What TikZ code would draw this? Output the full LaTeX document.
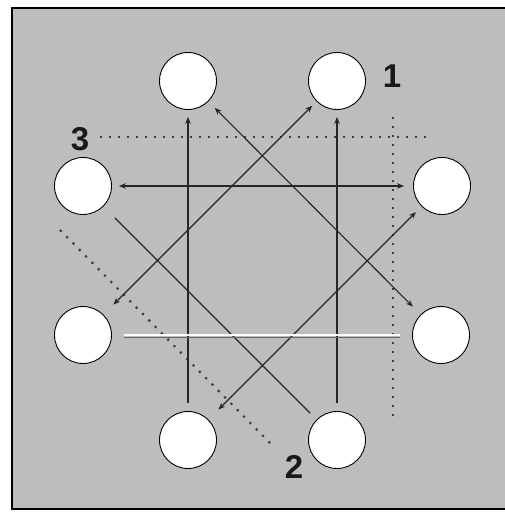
\documentclass[tikz,border=0pt]{standalone}
\usepackage{fontspec}
\setmainfont{Liberation Sans}
\usetikzlibrary{arrows.meta}
\begin{document}
\begin{tikzpicture}[x=1pt,y=-1pt,
  disc/.style={circle,draw=black,fill=white,line width=0.9pt,minimum size=57pt,inner sep=0pt},
  lab/.style={font=\fontsize{33}{36}\selectfont\bfseries,inner sep=0pt,text=black!90},
  conn/.style={line width=1.1pt,draw=black!85},
  axisline/.style={line width=2.2pt,draw=black!75,dash pattern=on 2.2pt off 6.8pt},
  >={Stealth[length=7pt,width=5.5pt]}]
\useasboundingbox (0,0) rectangle (504,516);
\fill[white] (0,0) rectangle (504,516);
\draw[fill=black!26,line width=1.2pt] (12,8) rectangle (508,509);

% discs
\node[disc] (t1) at (188,81) {};
\node[disc] (t2) at (337,81) {};
\node[disc] (l1) at (83,186) {};
\node[disc] (r1) at (442,186) {};
\node[disc] (l2) at (83,335) {};
\node[disc] (r2) at (441,335) {};
\node[disc] (b1) at (188,440) {};
\node[disc] (b2) at (337,440) {};

% labels
\node[lab] (n1) at (392,76) {1};
\node[lab] (n2) at (294,467) {2};
\node[lab] (n3) at (80,139) {3};

% axis end points
\coordinate (a3s) at (100,137);
\coordinate (a3e) at (432,137);
\coordinate (a1s) at (393,117);
\coordinate (a1e) at (393,423);
\coordinate (a2s) at (60,230);
\coordinate (a2e) at (273,446);

% dotted axes
\draw[axisline] (a3s) -- (a3e);
\draw[axisline] (a1s) -- (a1e);
\draw[axisline] (a2s) -- (a2e);

% connectors
\draw[conn,->,shorten <=8pt,shorten >=7pt] (b1) -- (t1);
\draw[conn,->,shorten <=8pt,shorten >=7pt] (b2) -- (t2);
\draw[conn,<->,shorten <=7pt,shorten >=9pt] (l1) -- (r1);
\draw[conn,<->,shorten <=9pt,shorten >=11pt] (t1) -- (r2);
\draw[conn,<->,shorten <=6pt,shorten >=14pt] (t2) -- (l2);
\draw[conn,<->,shorten <=8pt,shorten >=14pt] (r1) -- (b1);
\draw[conn,shorten <=16pt,shorten >=9pt] (l1) -- (b2);
\draw[line width=1.8pt,draw=white,shorten <=12pt,shorten >=12pt,
  preaction={draw=black!60,line width=1.2pt,transform canvas={yshift=-2.5pt}}] (l2) -- (r2);
\end{tikzpicture}
\end{document}
